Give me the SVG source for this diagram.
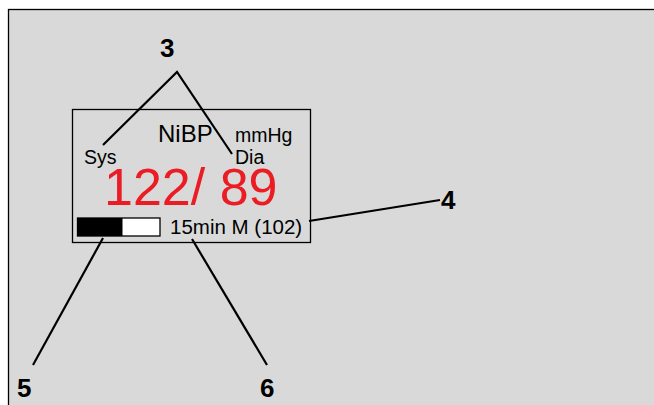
<svg xmlns="http://www.w3.org/2000/svg" width="654" height="405" viewBox="0 0 654 405">
<style>
.lbl{font-family:"Liberation Sans",Arial,sans-serif;font-weight:bold;font-size:26px;fill:#000}
.t{font-family:"Liberation Sans",Arial,sans-serif;fill:#000}
.c{stroke:#000;stroke-width:2.2;fill:none}
</style>
<rect x="0" y="0" width="654" height="405" fill="#fff"/>
<rect x="8.5" y="9.5" width="650" height="400" fill="#d9d9d9" stroke="#000" stroke-width="1.3"/>
<g id="display">
<rect x="72.5" y="109.5" width="238" height="133" fill="none" stroke="#000" stroke-width="1.3"/>
<text class="t" x="158" y="142" font-size="24">NiBP</text>
<text class="t" x="235" y="142" font-size="19.5">mmHg</text>
<text class="t" x="84" y="164" font-size="19.5">Sys</text>
<text class="t" x="235" y="164" font-size="19.5">Dia</text>
<text class="t" x="104" y="205" font-size="52" style="fill:#ec1c24">122/ 89</text>
<rect x="77.5" y="218" width="82.5" height="18" fill="#fff" stroke="#000" stroke-width="1.3"/>
<rect x="77.5" y="218" width="45" height="18" fill="#000"/>
<text class="t" x="170" y="234" font-size="20.5">15min M (102)</text>
</g>
<g id="connectors">
<polyline class="c" points="103,145 177,72 232,154"/>
<line class="c" x1="309" y1="221" x2="440" y2="200"/>
<line class="c" x1="103" y1="238" x2="33" y2="365"/>
<line class="c" x1="192" y1="239" x2="267" y2="365"/>
</g>
<g id="label3"><text class="lbl" x="160" y="57">3</text></g>
<g id="label4"><text class="lbl" x="441" y="209">4</text></g>
<g id="label5"><text class="lbl" x="17" y="397">5</text></g>
<g id="label6"><text class="lbl" x="260" y="397">6</text></g>
</svg>
